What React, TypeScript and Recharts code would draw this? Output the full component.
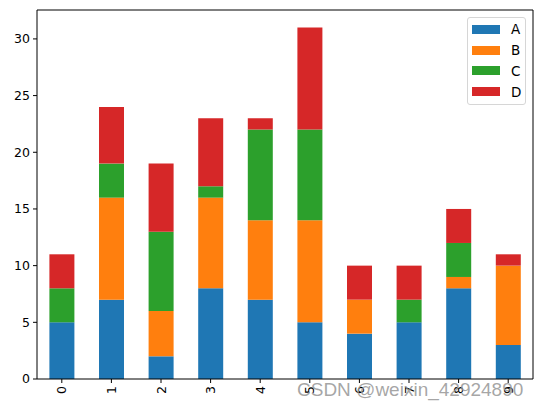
import React from 'react';
import { BarChart, Bar, XAxis, YAxis, Legend } from 'recharts';

const categories = ['0', '1', '2', '3', '4', '5', '6', '7', '8', '9'];
const seriesA = [5, 7, 2, 8, 7, 5, 4, 5, 8, 3];
const seriesB = [0, 9, 4, 8, 7, 9, 3, 0, 1, 7];
const seriesC = [3, 3, 7, 1, 8, 8, 0, 2, 3, 0];
const seriesD = [3, 5, 6, 6, 1, 9, 3, 3, 3, 1];
const yTicks = [0, 5, 10, 15, 20, 25, 30];

const seriesKeys = ['A', 'B', 'C', 'D'];
const colors = ['#1f77b4', '#ff7f0e', '#2ca02c', '#d62728'];

const data = categories.map((name, i) => ({
  name,
  A: seriesA[i],
  B: seriesB[i],
  C: seriesC[i],
  D: seriesD[i],
}));

const FONT = '"DejaVu Sans", sans-serif';

const RotatedTick = (props: any) => {
  const { x, y, payload } = props;
  return (
    <text
      x={x}
      y={y}
      transform={`rotate(-90, ${x}, ${y})`}
      textAnchor="end"
      dominantBaseline="central"
      fontFamily={FONT}
      fontSize={12.5}
      fill="#000"
    >
      {payload.value}
    </text>
  );
};

const LegendBox = () => (
  <div
    style={{
      width: 59,
      height: 88,
      border: '1px solid #d6d6d6',
      borderRadius: 3,
      background: 'rgba(255,255,255,0.8)',
      boxSizing: 'border-box',
      position: 'relative',
      fontFamily: FONT,
      fontSize: 13.5,
      color: '#000',
    }}
  >
    {seriesKeys.map((k, i) => (
      <div
        key={k}
        style={{
          position: 'absolute',
          left: 4,
          top: 11.3 + i * 20.8 - 10,
          height: 20,
          display: 'flex',
          alignItems: 'center',
        }}
      >
        <div style={{ width: 28, height: 9, background: colors[i] }} />
        <span style={{ marginLeft: 11 }}>{k}</span>
      </div>
    ))}
  </div>
);

export default function App() {
  return (
    <div style={{ position: 'absolute', left: 0, top: 0, width: 543, height: 408, background: '#fff' }}>
      <BarChart
        width={543}
        height={408}
        data={data}
        margin={{ top: 9, right: 9, left: 0, bottom: 0 }}
        barCategoryGap="25%"
      >
        <XAxis
          dataKey="name"
          height={29}
          tick={<RotatedTick />}
          tickSize={4}
          tickMargin={3}
          axisLine={{ stroke: '#000' }}
          tickLine={{ stroke: '#000' }}
          interval={0}
        />
        <XAxis
          xAxisId="top"
          orientation="top"
          dataKey="name"
          height={1}
          tick={false}
          tickLine={false}
          axisLine={{ stroke: '#000' }}
        />
        <YAxis
          width={37}
          domain={[0, 32.55]}
          ticks={yTicks}
          tickSize={4}
          tickMargin={3}
          allowDataOverflow
          axisLine={{ stroke: '#000' }}
          tickLine={{ stroke: '#000' }}
          tick={{ fontFamily: FONT, fontSize: 12.5, fill: '#000' }}
        />
        <YAxis
          yAxisId="right"
          orientation="right"
          width={1}
          tick={false}
          tickLine={false}
          axisLine={{ stroke: '#000' }}
          domain={[0, 32.55]}
        />
        <Legend
          layout="vertical"
          align="center"
          verticalAlign="middle"
          wrapperStyle={{ left: 467, top: 17, width: 59, height: 88 }}
          content={() => <LegendBox />}
        />
        {seriesKeys.map((k, i) => (
          <Bar key={k} dataKey={k} stackId="s" fill={colors[i]} isAnimationActive={false} />
        ))}
      </BarChart>
      <div
        style={{
          position: 'absolute',
          left: 297,
          top: 379,
          fontFamily: '"Liberation Sans", Arial, sans-serif',
          fontSize: 19,
          color: 'rgba(150,150,150,0.85)',
          whiteSpace: 'nowrap',
          pointerEvents: 'none',
        }}
      >
        CSDN @weixin_42924890
      </div>
    </div>
  );
}
